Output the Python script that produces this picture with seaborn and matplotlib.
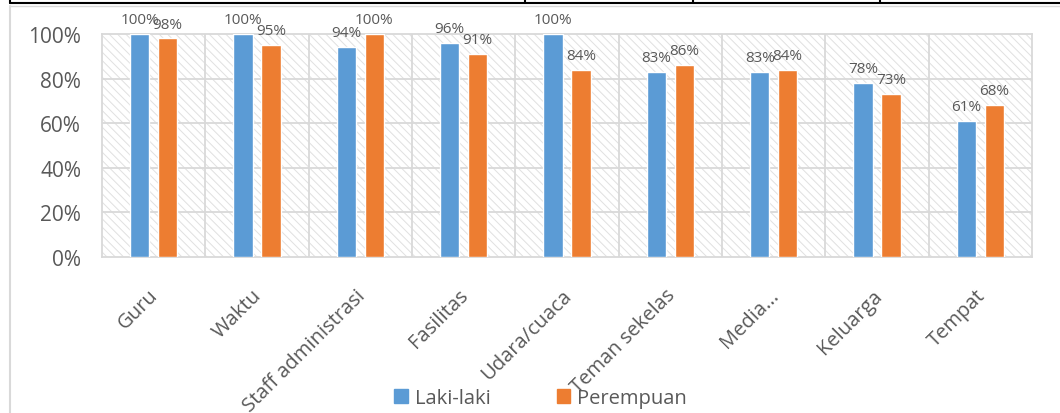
import pandas as pd
import matplotlib
matplotlib.use('Agg')
import matplotlib.pyplot as plt
from matplotlib.patches import Rectangle, Patch
from matplotlib.lines import Line2D
import seaborn as sns

'''DATA'''
categories = ['Guru', 'Waktu', 'Staff administrasi', 'Fasilitas', 'Udara/cuaca',
              'Teman sekelas', 'Media...', 'Keluarga', 'Tempat']
laki = [100, 100, 94, 96, 100, 83, 83, 78, 61]
perempuan = [98, 95, 100, 91, 84, 86, 84, 73, 68]
series = ['Laki-laki', 'Perempuan']

df = pd.DataFrame({
    'kategori': categories * 2,
    'nilai': laki + perempuan,
    'jenis': [series[0]] * len(categories) + [series[1]] * len(categories),
})

'''STYLE'''
sns.set_style('white')
plt.rcParams['font.family'] = ['Open Sans', 'DejaVu Sans']
txt = '#595959'
grid = '#d9d9d9'
plt.rcParams['hatch.linewidth'] = 0.7

fig = plt.figure(figsize=(10.6, 4.14), dpi=100)
ax = fig.add_axes([102/1060, 1 - 258/414, 930/1060, 223/414])

#hatched plot background
bg = Rectangle((0, 0), 1, 1, transform=ax.transAxes, facecolor='white',
               edgecolor='#e0e0e0', hatch='\\\\\\\\', lw=0, zorder=0)
ax.add_patch(bg)

sns.barplot(data=df, x='kategori', y='nilai', hue='jenis',
            palette=['#5b9bd5', '#ed7d31'], width=0.54, gap=0.3,
            saturation=1, ax=ax, zorder=3, legend=False)

for cont in ax.containers:
    ax.bar_label(cont, labels=[f'{v:.0f}%' for v in cont.datavalues],
                 padding=5, fontsize=11, color=txt)

#grid
ax.set_ylim(0, 100)
ax.set_xlim(-0.5, len(categories) - 0.5)
ax.set_yticks(range(0, 101, 20))
ax.set_yticklabels([f'{t}%' for t in range(0, 101, 20)])
for yv in range(20, 100, 20):
    ax.axhline(yv, color=grid, lw=1.3, zorder=1)
for xv in range(1, len(categories)):
    ax.axvline(xv - 0.5, color=grid, lw=1.3, zorder=1)
for s in ax.spines.values():
    s.set_color(grid)
    s.set_linewidth(1.3)

ax.tick_params(axis='y', length=0, labelsize=15, labelcolor=txt, pad=15)
ax.tick_params(axis='x', length=0, labelsize=14.5, labelcolor=txt, pad=24)
plt.setp(ax.get_xticklabels(), rotation=45, ha='right', va='center_baseline',
         rotation_mode='anchor')
ax.set_xlabel('')
ax.set_ylabel('')

handles = [Patch(color='#5b9bd5'), Patch(color='#ed7d31')]
fig.legend(handles, series, loc='center', bbox_to_anchor=(0.51, 0.036),
           ncol=2, frameon=False, fontsize=14.5, labelcolor=txt,
           handlelength=0.65, handleheight=0.65, handletextpad=0.35,
           columnspacing=3.3, borderpad=0)

#table border pieces around the chart
H = 414
fig.add_artist(Line2D([10/1060, 1], [1 - 4/H, 1 - 4/H], color='black', lw=1.5))
for xp in [10, 525, 693, 880]:
    fig.add_artist(Line2D([xp/1060, xp/1060], [1, 1 - 4/H], color='black', lw=1.5))
fig.add_artist(Line2D([10/1060, 10/1060], [0, 1 - 7/H], color=grid, lw=1.5))
fig.add_artist(Line2D([10/1060, 1], [1 - 7/H, 1 - 7/H], color=grid, lw=1))

fig.savefig('out.png', dpi=100)
